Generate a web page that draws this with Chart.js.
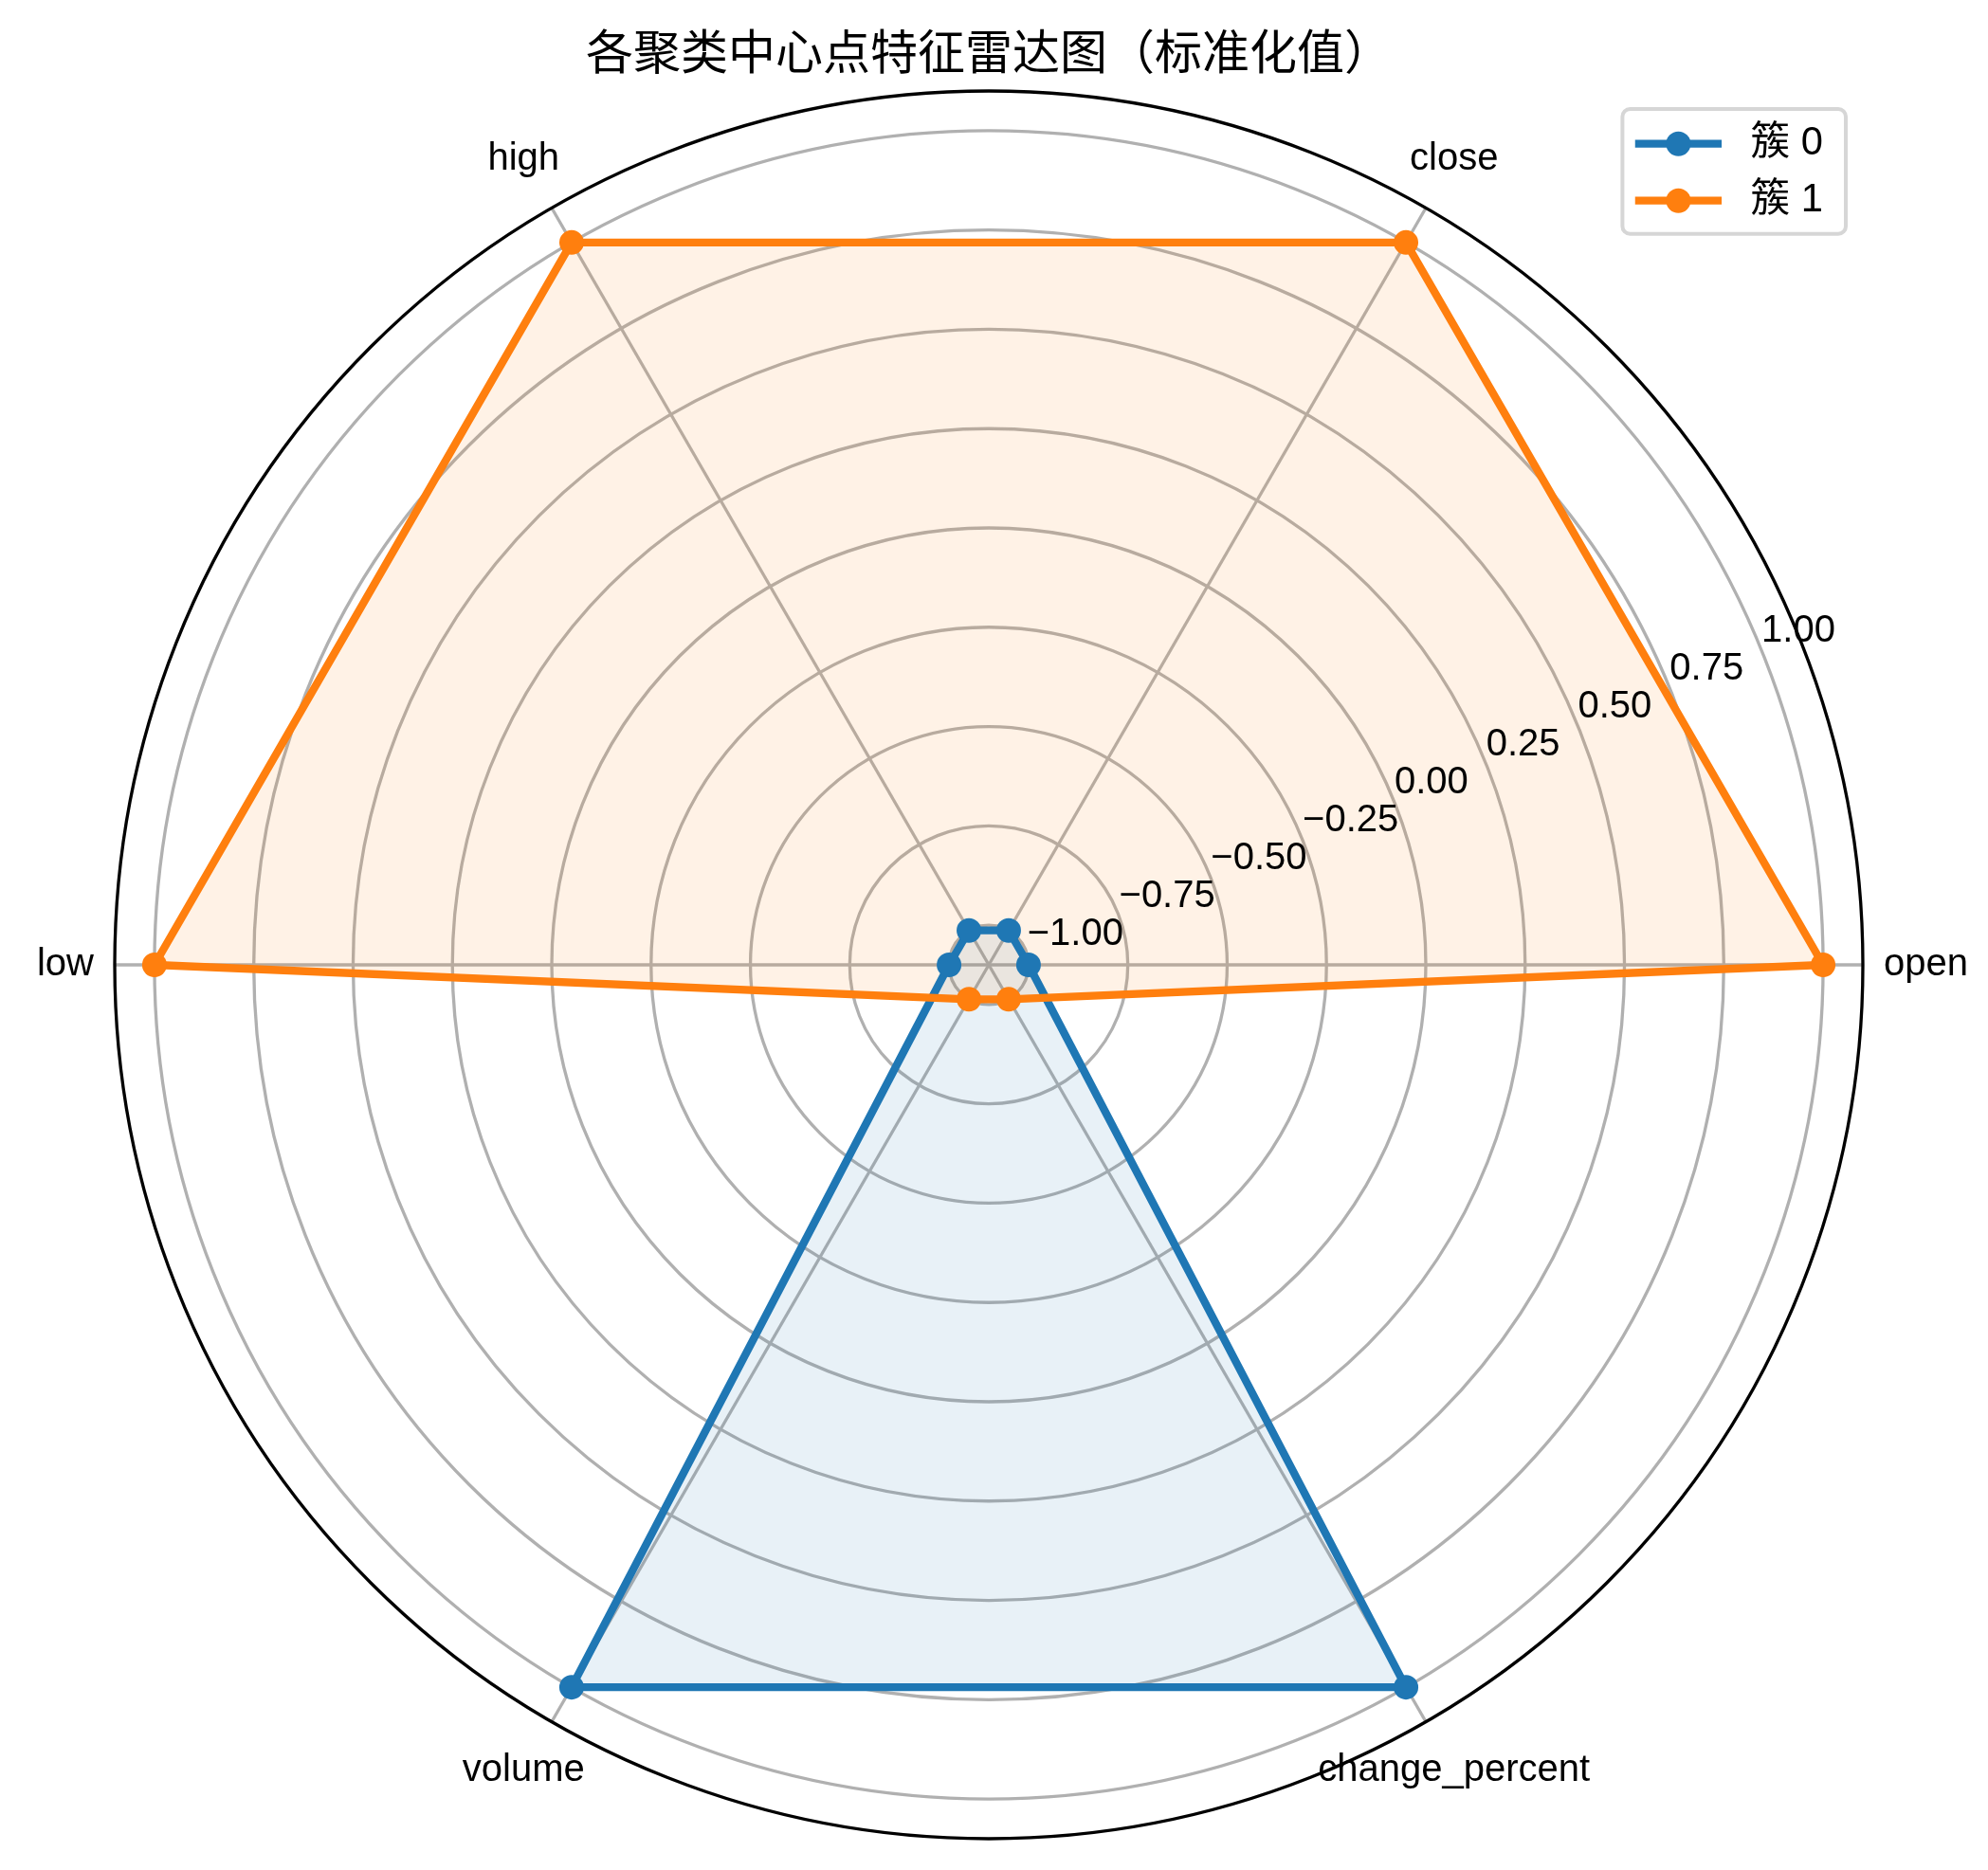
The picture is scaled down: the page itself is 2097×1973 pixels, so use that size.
<!DOCTYPE html>
<html>
<head>
<meta charset="utf-8">
<script src="https://cdn.jsdelivr.net/npm/chart.js@4.4.0/dist/chart.umd.min.js"></script>
<style>
html,body{margin:0;padding:0;background:#ffffff;}
#wrap{width:2097px;height:1973px;position:relative;}
canvas{display:block;}
</style>
</head>
<body>
<div id="wrap"><canvas id="c" width="2097" height="1973"></canvas></div>
<script>
// ---- data ----
const features = ['open', 'close', 'high', 'low', 'volume', 'change_percent'];
const cluster0 = [-1, -1, -1, -1, 1, 1];
const cluster1 = [1, 1, 1, 1, -1, -1];
const seriesNames = ['簇 0', '簇 1'];
const radialTicks = [-1.00, -0.75, -0.50, -0.25, 0.00, 0.25, 0.50, 0.75, 1.00];
const titleText = '各聚类中心点特征雷达图（标准化值）';

// ---- presentation ----
const rMin = -1.1, rMax = 1.1;
const colors = ['#1f77b4', '#ff7f0e'];
const fills = ['rgba(31,119,180,0.1)', 'rgba(255,127,14,0.1)'];
// features are laid out counter-clockwise from the right; Chart.js goes clockwise
const cwOrder = [0, 5, 4, 3, 2, 1];
const labelsCW = cwOrder.map(i => features[i]);
const reorder = arr => cwOrder.map(i => arr[i]);

const LABEL_FONT = '40px "Liberation Sans", "Noto Sans CJK SC", sans-serif';
const LEGEND_FONT = '41.7px "Liberation Sans", "Noto Sans CJK SC", sans-serif';
const TITLE_FONT = '50px "Noto Sans CJK SC", sans-serif';

function fmt(v) {
  const s = Math.abs(v).toFixed(2);
  return (v < 0 ? '\u2212' : '') + s;
}

const decor = {
  id: 'decor',
  beforeDatasetsDraw(chart) {
    const ctx = chart.ctx, s = chart.scales.r;
    ctx.save();
    ctx.font = LABEL_FONT;
    ctx.fillStyle = '#000';
    ctx.textAlign = 'left';
    ctx.textBaseline = 'alphabetic';
    const a = -22.5 * Math.PI / 180;
    radialTicks.forEach(v => {
      const r = s.getDistanceFromCenterForValue(v);
      ctx.fillText(fmt(v), s.xCenter + r * Math.cos(a) + 2, s.yCenter + r * Math.sin(a) - 4.5);
    });
    ctx.restore();
  },
  afterDatasetsDraw(chart) {
    const ctx = chart.ctx, s = chart.scales.r;
    ctx.save();
    // outer frame
    ctx.beginPath();
    ctx.arc(s.xCenter, s.yCenter, s.getDistanceFromCenterForValue(rMax), 0, Math.PI * 2);
    ctx.lineWidth = 3.33;
    ctx.strokeStyle = '#000';
    ctx.stroke();

    // category labels
    ctx.font = LABEL_FONT;
    ctx.fillStyle = '#000';
    ctx.textAlign = 'center';
    ctx.textBaseline = 'middle';
    labelsCW.forEach((lab, i) => {
      const p = s.getPointPosition(i, s.getDistanceFromCenterForValue(rMax));
      const ux = Math.cos(p.angle), uy = Math.sin(p.angle);
      const w = ctx.measureText(lab).width, h = 65;
      const tx = Math.abs(ux) > 1e-6 ? (w / 2) / Math.abs(ux) : Infinity;
      const ty = Math.abs(uy) > 1e-6 ? (h / 2) / Math.abs(uy) : Infinity;
      const t = 22 + Math.min(tx, ty);
      ctx.fillText(lab, p.x + ux * t, p.y + uy * t);
    });

    // title
    ctx.font = TITLE_FONT;
    ctx.textAlign = 'center';
    ctx.textBaseline = 'alphabetic';
    ctx.fillText(titleText, s.xCenter, s.yCenter - s.drawingArea - 23);

    // legend
    const R = s.xCenter + s.drawingArea - 18;
    const T = s.yCenter - s.drawingArea + 19;
    const W = 235.6, H = 131.7;
    const L = R - W;
    ctx.beginPath();
    ctx.roundRect(L, T, W, H, 8);
    ctx.fillStyle = 'rgba(255,255,255,0.8)';
    ctx.fill();
    ctx.lineWidth = 4;
    ctx.strokeStyle = '#d6d6d6';
    ctx.stroke();
    chart.data.datasets.forEach((ds, k) => {
      const y = T + 36.7 + k * 60;
      ctx.beginPath();
      ctx.moveTo(L + 17.5, y);
      ctx.lineTo(L + 100.5, y);
      ctx.lineWidth = 8.3;
      ctx.lineCap = 'square';
      ctx.strokeStyle = ds.borderColor;
      ctx.stroke();
      ctx.beginPath();
      ctx.arc(L + 59, y, 13, 0, Math.PI * 2);
      ctx.fillStyle = ds.borderColor;
      ctx.fill();
      ctx.font = LEGEND_FONT;
      ctx.fillStyle = '#000';
      ctx.textAlign = 'left';
      ctx.textBaseline = 'middle';
      ctx.fillText(ds.label, L + 135, y);
    });
    ctx.restore();
  }
};

const datasets = [cluster0, cluster1].map((vals, k) => ({
  label: seriesNames[k],
  data: reorder(vals),
  borderColor: colors[k],
  backgroundColor: fills[k],
  pointBackgroundColor: colors[k],
  pointBorderColor: colors[k],
  pointBorderWidth: 0,
  pointRadius: 13,
  pointHoverRadius: 13,
  borderWidth: 8.3,
  borderJoinStyle: 'round',
  fill: 'start',
  order: k === 1 ? 0 : 1
}));

new Chart(document.getElementById('c'), {
  type: 'radar',
  data: { labels: labelsCW, datasets },
  options: {
    responsive: false,
    animation: false,
    events: [],
    layout: { padding: { left: 121, top: 96, right: 131, bottom: 32 } },
    plugins: {
      legend: { display: false },
      tooltip: { enabled: false },
      title: { display: false },
      filler: { drawTime: 'beforeDatasetsDraw' }
    },
    elements: { line: { tension: 0 } },
    scales: {
      r: {
        min: rMin,
        max: rMax,
        startAngle: 90,
        ticks: { display: false, stepSize: 0.25 },
        afterBuildTicks: (sc) => { sc.ticks = [rMin].concat(radialTicks).map(v => ({ value: v })); },
        grid: { circular: true, color: '#b0b0b0', lineWidth: 3.33 },
        angleLines: { display: true, color: '#b0b0b0', lineWidth: 3.33 },
        pointLabels: { display: false }
      }
    }
  },
  plugins: [decor]
});
</script>
</body>
</html>
